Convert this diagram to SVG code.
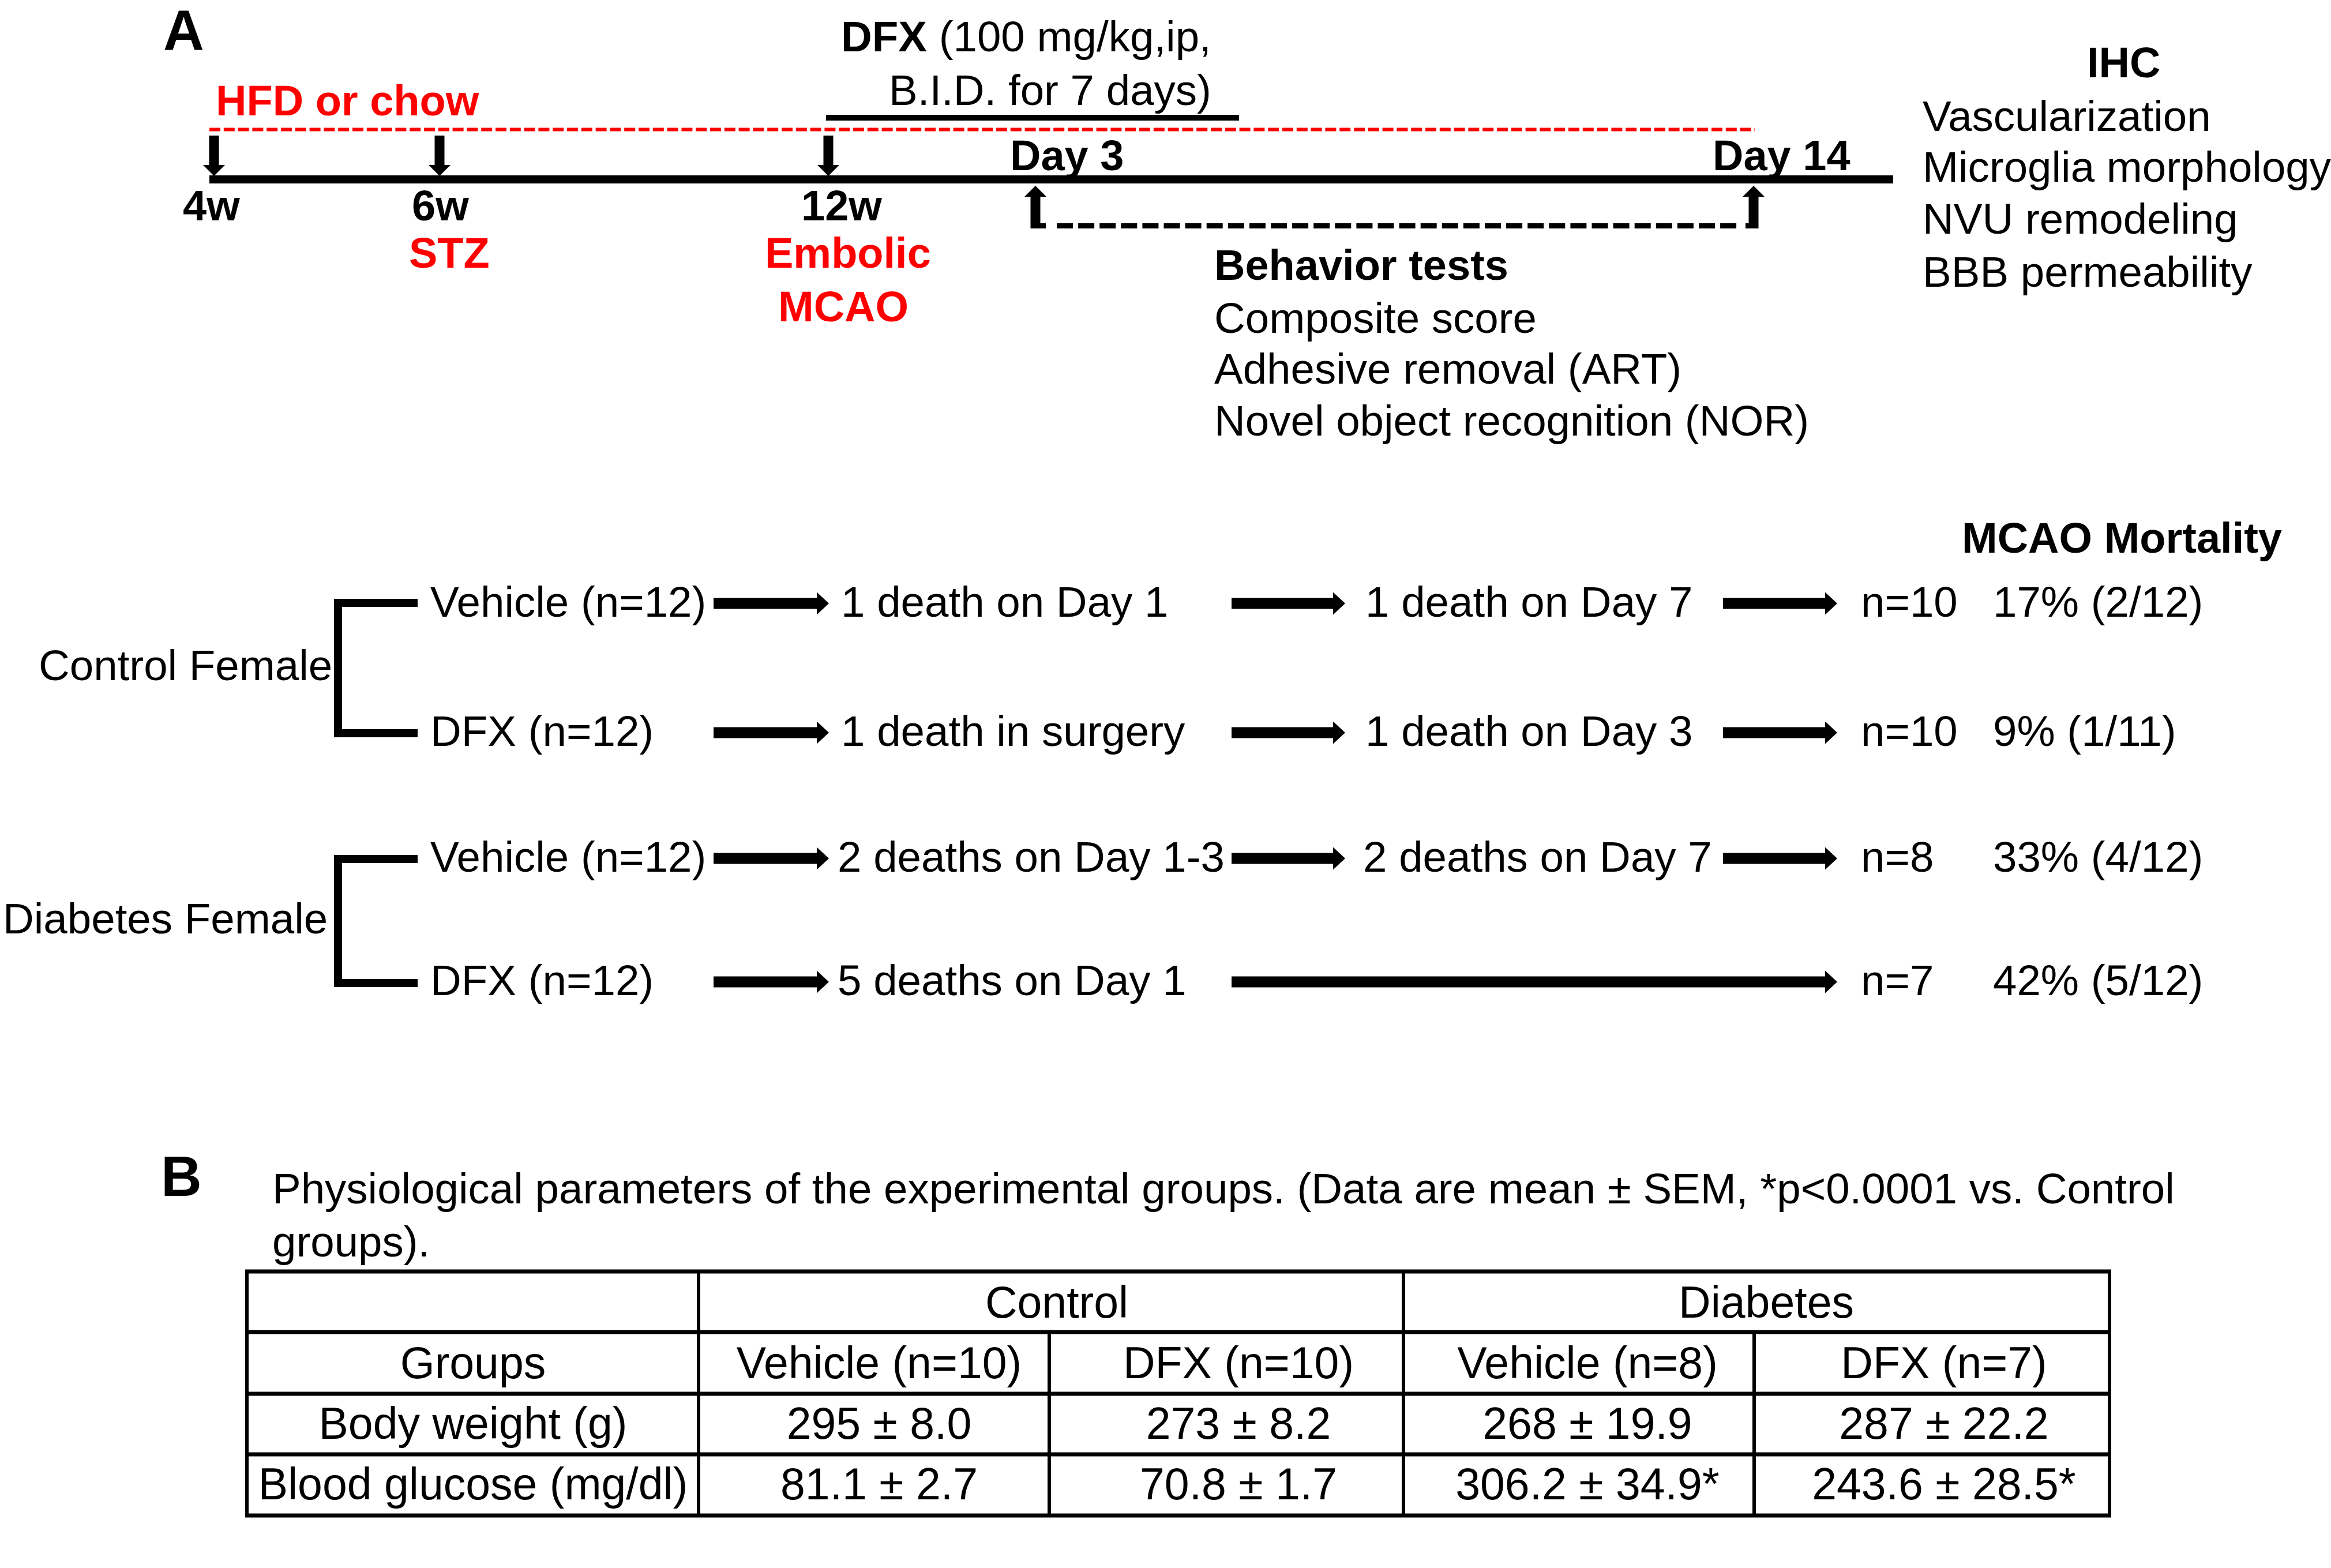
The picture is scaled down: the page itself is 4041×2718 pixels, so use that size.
<svg xmlns="http://www.w3.org/2000/svg" width="4041" height="2718" viewBox="0 0 4041 2718">
<style>
  text { font-family: "Liberation Sans", Arial, sans-serif; fill: #000; }
  .b { font-weight: bold; font-size: 74px; }
  .r { font-size: 74.5px; }
  .red { fill: #ff0000; }
  .t { font-size: 77px; text-anchor: middle; }
  .panel { font-weight: bold; font-size: 98px; }
  .ln { stroke: #000; fill: none; }
  .hl { stroke: #000; stroke-width: 7; }
  .vl { stroke: #000; stroke-width: 6; }
  .arr { stroke: #000; stroke-width: 19; fill: none; marker-end: url(#hr); }
  .tarr { stroke: #000; stroke-width: 17; fill: none; marker-end: url(#ht); }
</style>
<defs>
  <marker id="hr" markerUnits="userSpaceOnUse" markerWidth="21" markerHeight="39" viewBox="0 0 21 39" refX="1" refY="19.5" orient="auto">
    <path d="M0,0 L21,19.5 L0,39 Z" fill="#000"/>
  </marker>
  <marker id="ht" markerUnits="userSpaceOnUse" markerWidth="19" markerHeight="38" viewBox="0 0 19 38" refX="1" refY="19" orient="auto">
    <path d="M0,0 L19,19 L0,38 Z" fill="#000"/>
  </marker>
</defs>
<rect x="0" y="0" width="4041" height="2718" fill="#fff"/>

<!-- Panel A: timeline -->
<g id="panelA-label"><text class="panel" x="283" y="86">A</text></g>

<g id="timeline">
  <line id="diet-line" x1="363" y1="224.5" x2="3042" y2="224.5" stroke="#ff0000" stroke-width="6" stroke-dasharray="19 5.8"/>
  <line id="dfx-bar" x1="1432" y1="204" x2="2148" y2="204" stroke="#000" stroke-width="10"/>
  <line id="main-axis" x1="363" y1="311" x2="3282" y2="311" stroke="#000" stroke-width="14"/>
</g>

<g id="label-hfd"><text class="b red" x="374" y="200">HFD or chow</text></g>
<g id="label-dfx">
  <text class="r" x="1458" y="89"><tspan font-weight="bold">DFX</tspan> (100 mg/kg,ip,</text>
  <text class="r" x="1541" y="182">B.I.D. for 7 days)</text>
</g>
<g id="label-4w"><text class="b" x="317" y="382">4w</text></g>
<g id="label-6w">
  <text class="b" x="714" y="382">6w</text>
  <text class="b red" x="709" y="464">STZ</text>
</g>
<g id="label-12w">
  <text class="b" x="1389" y="382">12w</text>
  <text class="b red" x="1326" y="464">Embolic</text>
  <text class="b red" x="1349" y="557">MCAO</text>
</g>
<g id="label-day3"><text class="b" x="1751" y="295">Day 3</text></g>
<g id="label-day14"><text class="b" x="2969" y="295">Day 14</text></g>

<g id="behavior">
  <text class="b" x="2105" y="485">Behavior tests</text>
  <text class="r" x="2105" y="577">Composite score</text>
  <text class="r" x="2105" y="665">Adhesive removal (ART)</text>
  <text class="r" x="2105" y="755">Novel object recognition (NOR)</text>
</g>

<g id="ihc">
  <text class="b" x="3618" y="134">IHC</text>
  <text class="r" x="3333" y="227">Vascularization</text>
  <text class="r" x="3333" y="315">Microglia morphology</text>
  <text class="r" x="3333" y="405">NVU remodeling</text>
  <text class="r" x="3333" y="497">BBB permeability</text>
</g>

<g id="timeline-connectors">
  <line class="tarr" x1="371" y1="235" x2="371" y2="287"/>
  <line class="tarr" x1="762" y1="235" x2="762" y2="287"/>
  <line class="tarr" x1="1436" y1="235" x2="1436" y2="287"/>
  <line class="tarr" x1="1795" y1="396" x2="1795" y2="340"/>
  <line class="tarr" x1="3040" y1="396" x2="3040" y2="340"/>
  <rect x="1787" y="387" width="26" height="9" fill="#000"/>
  <rect x="3026" y="387" width="22" height="9" fill="#000"/>
  <line x1="1832" y1="391.5" x2="3017" y2="391.5" stroke="#000" stroke-width="9" stroke-dasharray="28 9.1"/>
</g>

<!-- Panel A: mortality flow -->
<g id="mortality-header"><text class="b" x="3401" y="958">MCAO Mortality</text></g>

<g id="group-control">
  <text class="r" x="67" y="1179">Control Female</text>
</g>
<g id="group-diabetes">
  <text class="r" x="5" y="1618">Diabetes Female</text>
</g>

<g id="brackets">
  <path class="ln" stroke-width="14" stroke-linejoin="miter" d="M724,1045 H586 V1271 H724"/>
  <path class="ln" stroke-width="14" stroke-linejoin="miter" d="M724,1489 H586 V1704 H724"/>
</g>

<g id="row1">
  <text class="r" x="746" y="1069">Vehicle (n=12)</text>
  <text class="r" x="1458" y="1069">1 death on Day 1</text>
  <text class="r" x="2367" y="1069">1 death on Day 7</text>
  <text class="r" x="3226" y="1069">n=10</text>
  <text class="r" x="3455" y="1069">17% (2/12)</text>
</g>
<g id="row2">
  <text class="r" x="746" y="1293">DFX (n=12)</text>
  <text class="r" x="1458" y="1293">1 death in surgery</text>
  <text class="r" x="2367" y="1293">1 death on Day 3</text>
  <text class="r" x="3226" y="1293">n=10</text>
  <text class="r" x="3455" y="1293">9% (1/11)</text>
</g>
<g id="row3">
  <text class="r" x="746" y="1511">Vehicle (n=12)</text>
  <text class="r" x="1452" y="1511">2 deaths on Day 1-3</text>
  <text class="r" x="2363" y="1511">2 deaths on Day 7</text>
  <text class="r" x="3226" y="1511">n=8</text>
  <text class="r" x="3455" y="1511">33% (4/12)</text>
</g>
<g id="row4">
  <text class="r" x="746" y="1725">DFX (n=12)</text>
  <text class="r" x="1452" y="1725">5 deaths on Day 1</text>
  <text class="r" x="3226" y="1725">n=7</text>
  <text class="r" x="3455" y="1725">42% (5/12)</text>
</g>

<g id="connectors">
  <line class="arr" x1="1237" y1="1046" x2="1417" y2="1046"/>
  <line class="arr" x1="2135" y1="1046" x2="2312" y2="1046"/>
  <line class="arr" x1="2987" y1="1046" x2="3165" y2="1046"/>
  <line class="arr" x1="1237" y1="1270" x2="1417" y2="1270"/>
  <line class="arr" x1="2135" y1="1270" x2="2312" y2="1270"/>
  <line class="arr" x1="2987" y1="1270" x2="3165" y2="1270"/>
  <line class="arr" x1="1237" y1="1488" x2="1417" y2="1488"/>
  <line class="arr" x1="2135" y1="1488" x2="2312" y2="1488"/>
  <line class="arr" x1="2987" y1="1488" x2="3165" y2="1488"/>
  <line class="arr" x1="1237" y1="1702" x2="1417" y2="1702"/>
  <line class="arr" x1="2135" y1="1702" x2="3165" y2="1702"/>
</g>

<!-- Panel B -->
<g id="panelB-label"><text class="panel" x="279" y="2073">B</text></g>
<g id="caption">
  <text class="r" x="472" y="2086">Physiological parameters of the experimental groups. (Data are mean ± SEM, *p&lt;0.0001 vs. Control</text>
  <text class="r" x="472" y="2178">groups).</text>
</g>

<g id="table">
  <g id="table-grid">
    <line class="hl" x1="425" y1="2204" x2="3660" y2="2204"/>
    <line class="hl" x1="425" y1="2309" x2="3660" y2="2309"/>
    <line class="hl" x1="425" y1="2416" x2="3660" y2="2416"/>
    <line class="hl" x1="425" y1="2521" x2="3660" y2="2521"/>
    <line class="hl" x1="425" y1="2627" x2="3660" y2="2627"/>
    <line class="vl" x1="428" y1="2204" x2="428" y2="2627"/>
    <line class="vl" x1="1211" y1="2204" x2="1211" y2="2627"/>
    <line class="vl" x1="2433" y1="2204" x2="2433" y2="2627"/>
    <line class="vl" x1="3657" y1="2204" x2="3657" y2="2627"/>
    <line class="vl" x1="1819" y1="2309" x2="1819" y2="2627"/>
    <line class="vl" x1="3041" y1="2309" x2="3041" y2="2627"/>
  </g>
  <g id="table-header1">
    <text class="t" x="1832" y="2284">Control</text>
    <text class="t" x="3062" y="2284">Diabetes</text>
  </g>
  <g id="table-header2">
    <text class="t" x="820" y="2389">Groups</text>
    <text class="t" x="1524" y="2389">Vehicle (n=10)</text>
    <text class="t" x="2147" y="2389">DFX (n=10)</text>
    <text class="t" x="2752" y="2389">Vehicle (n=8)</text>
    <text class="t" x="3370" y="2389">DFX (n=7)</text>
  </g>
  <g id="table-row-bw">
    <text class="t" x="820" y="2494">Body weight (g)</text>
    <text class="t" x="1524" y="2494">295 ± 8.0</text>
    <text class="t" x="2147" y="2494">273 ± 8.2</text>
    <text class="t" x="2752" y="2494">268 ± 19.9</text>
    <text class="t" x="3370" y="2494">287 ± 22.2</text>
  </g>
  <g id="table-row-bg">
    <text class="t" x="820" y="2599">Blood glucose (mg/dl)</text>
    <text class="t" x="1524" y="2599">81.1 ± 2.7</text>
    <text class="t" x="2147" y="2599">70.8 ± 1.7</text>
    <text class="t" x="2752" y="2599">306.2 ± 34.9*</text>
    <text class="t" x="3370" y="2599">243.6 ± 28.5*</text>
  </g>
</g>
</svg>
